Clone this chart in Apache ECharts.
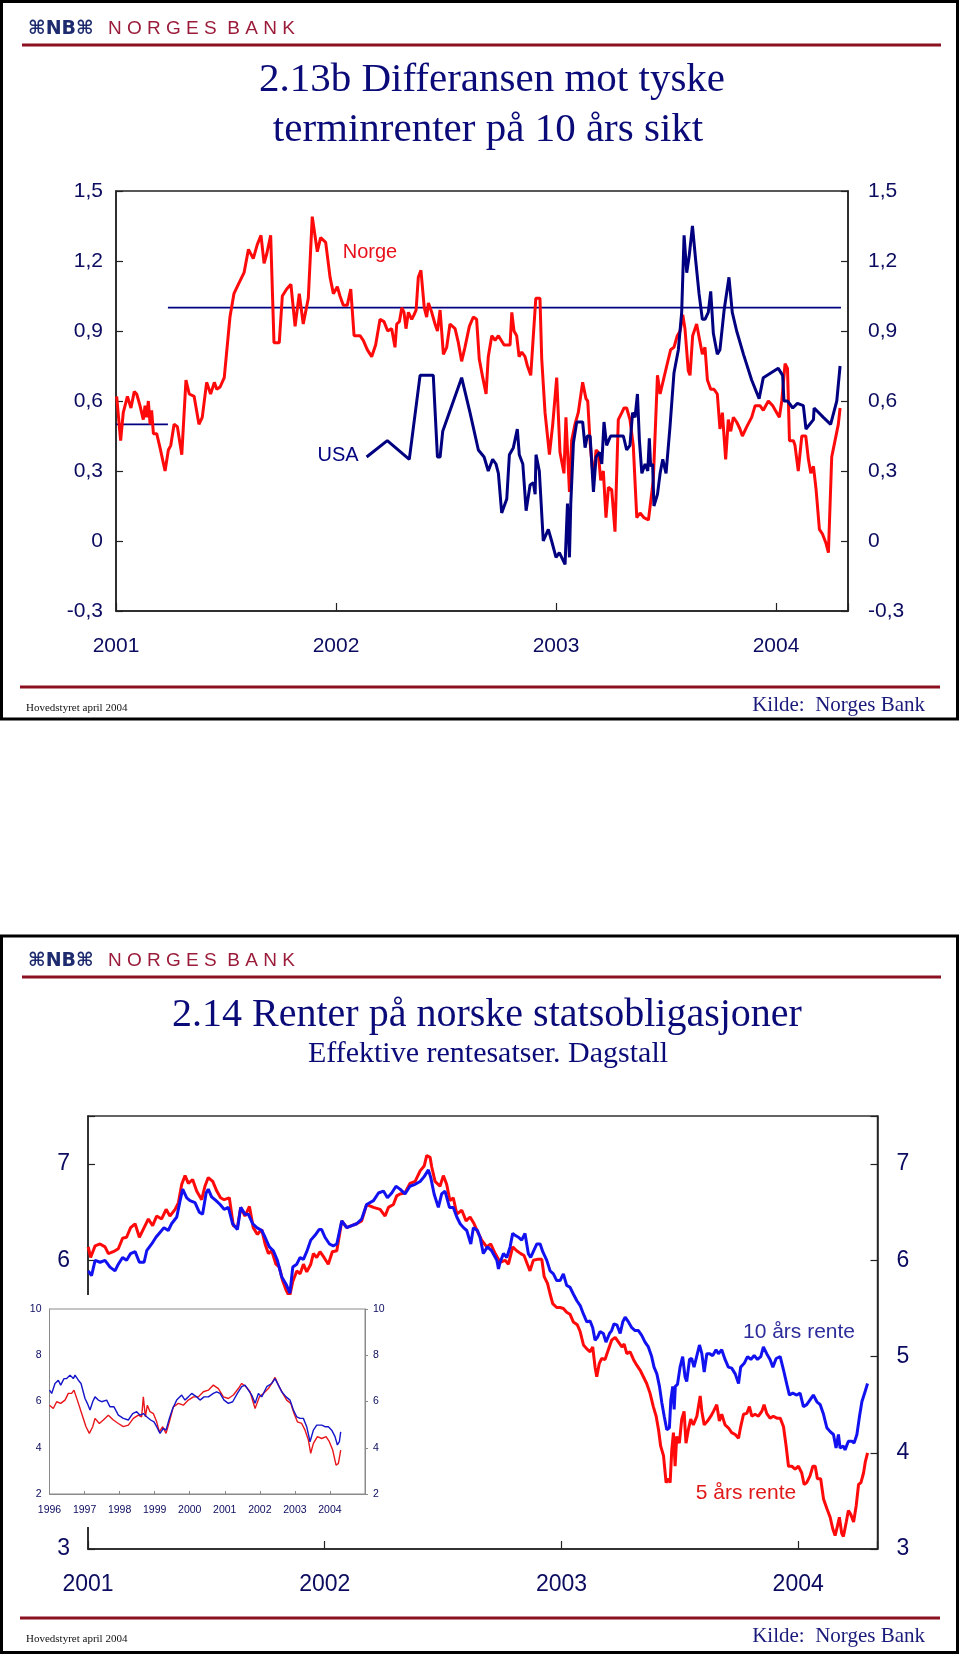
<!DOCTYPE html>
<html><head><meta charset="utf-8">
<script src="https://cdn.jsdelivr.net/npm/echarts@6/dist/echarts.min.js"></script>
<style>html,body{margin:0;padding:0;background:#fff}#c{width:960px;height:1654px}</style>
</head><body><div id="c"></div><script>
// ---------- Chart 2.13b : spread vs German 10y forward rates ----------
const topYTicks = [-0.3, 0, 0.3, 0.6, 0.9, 1.2, 1.5];
const yearTicks = [2001, 2002, 2003, 2004];
const norgeSpread = [[2001.003,0.62],[2001.021,0.43],[2001.033,0.55],[2001.052,0.62],[2001.068,0.57],[2001.083,0.64],[2001.094,0.63],[2001.109,0.58],[2001.124,0.52],[2001.132,0.58],[2001.139,0.53],[2001.147,0.60],[2001.155,0.50],[2001.162,0.56],[2001.170,0.46],[2001.185,0.46],[2001.200,0.40],[2001.223,0.30],[2001.238,0.39],[2001.249,0.41],[2001.264,0.50],[2001.279,0.49],[2001.299,0.37],[2001.318,0.69],[2001.333,0.63],[2001.355,0.62],[2001.377,0.50],[2001.392,0.53],[2001.412,0.68],[2001.430,0.63],[2001.447,0.68],[2001.458,0.65],[2001.473,0.66],[2001.492,0.70],[2001.518,0.96],[2001.536,1.06],[2001.556,1.10],[2001.582,1.15],[2001.602,1.25],[2001.624,1.21],[2001.642,1.27],[2001.659,1.31],[2001.673,1.19],[2001.685,1.23],[2001.703,1.31],[2001.718,0.85],[2001.742,0.85],[2001.756,1.05],[2001.776,1.08],[2001.795,1.10],[2001.814,0.92],[2001.833,1.06],[2001.851,0.93],[2001.874,1.04],[2001.892,1.39],[2001.915,1.24],[2001.930,1.30],[2001.953,1.28],[2001.973,1.13],[2001.988,1.06],[2002.006,1.09],[2002.018,1.05],[2002.033,1.01],[2002.051,1.01],[2002.067,1.08],[2002.082,0.88],[2002.109,0.88],[2002.124,0.86],[2002.142,0.82],[2002.162,0.79],[2002.180,0.84],[2002.200,0.95],[2002.218,0.94],[2002.235,0.90],[2002.253,0.91],[2002.268,0.83],[2002.276,0.93],[2002.288,0.94],[2002.299,1.00],[2002.309,0.98],[2002.318,0.91],[2002.329,0.98],[2002.344,0.95],[2002.355,0.97],[2002.364,0.99],[2002.374,1.13],[2002.386,1.16],[2002.401,1.00],[2002.412,0.96],[2002.420,1.02],[2002.435,0.98],[2002.450,0.93],[2002.461,0.90],[2002.473,0.99],[2002.488,0.80],[2002.503,0.83],[2002.518,0.93],[2002.541,0.91],[2002.556,0.85],[2002.571,0.77],[2002.586,0.83],[2002.606,0.92],[2002.624,0.96],[2002.639,0.95],[2002.651,0.78],[2002.667,0.70],[2002.682,0.63],[2002.692,0.79],[2002.708,0.88],[2002.723,0.86],[2002.738,0.88],[2002.764,0.84],[2002.791,0.84],[2002.799,0.98],[2002.809,0.90],[2002.821,0.88],[2002.832,0.79],[2002.844,0.81],[2002.859,0.79],[2002.870,0.75],[2002.885,0.71],[2002.894,0.71],[2002.908,1.04],[2002.927,1.04],[2002.935,0.78],[2002.950,0.55],[2002.970,0.37],[2002.985,0.50],[2003.003,0.70],[2003.018,0.38],[2003.036,0.29],[2003.045,0.53],[2003.061,0.21],[2003.071,0.43],[2003.086,0.50],[2003.101,0.55],[2003.121,0.68],[2003.136,0.61],[2003.144,0.60],[2003.155,0.42],[2003.170,0.26],[2003.182,0.39],[2003.192,0.38],[2003.203,0.26],[2003.215,0.30],[2003.227,0.10],[2003.238,0.23],[2003.253,0.22],[2003.268,0.04],[2003.283,0.52],[2003.299,0.55],[2003.309,0.57],[2003.321,0.57],[2003.336,0.52],[2003.351,0.41],[2003.367,0.10],[2003.382,0.12],[2003.400,0.10],[2003.420,0.09],[2003.442,0.26],[2003.461,0.71],[2003.473,0.63],[2003.488,0.69],[2003.503,0.75],[2003.521,0.82],[2003.536,0.83],[2003.551,0.88],[2003.564,0.90],[2003.576,0.97],[2003.586,0.91],[2003.601,0.73],[2003.609,0.71],[2003.621,0.88],[2003.639,0.93],[2003.655,0.85],[2003.665,0.80],[2003.677,0.83],[2003.688,0.69],[2003.703,0.65],[2003.718,0.65],[2003.733,0.63],[2003.745,0.48],[2003.756,0.55],[2003.771,0.35],[2003.783,0.52],[2003.794,0.47],[2003.806,0.53],[2003.821,0.51],[2003.836,0.48],[2003.847,0.45],[2003.867,0.49],[2003.889,0.53],[2003.905,0.58],[2003.927,0.58],[2003.942,0.56],[2003.965,0.60],[2003.985,0.58],[2004.003,0.55],[2004.015,0.53],[2004.026,0.60],[2004.041,0.76],[2004.052,0.74],[2004.061,0.43],[2004.079,0.43],[2004.086,0.41],[2004.101,0.30],[2004.117,0.45],[2004.135,0.45],[2004.147,0.35],[2004.158,0.29],[2004.170,0.32],[2004.182,0.22],[2004.197,0.05],[2004.211,0.03],[2004.227,-0.01],[2004.238,-0.05],[2004.253,0.36],[2004.268,0.43],[2004.283,0.50],[2004.291,0.57]];
const usaSpread = [[2002.139,0.36],[2002.233,0.43],[2002.333,0.35],[2002.382,0.71],[2002.442,0.71],[2002.461,0.36],[2002.473,0.36],[2002.485,0.47],[2002.571,0.70],[2002.609,0.55],[2002.647,0.39],[2002.673,0.36],[2002.692,0.30],[2002.712,0.35],[2002.727,0.33],[2002.738,0.29],[2002.753,0.12],[2002.776,0.18],[2002.788,0.37],[2002.806,0.40],[2002.824,0.48],[2002.833,0.37],[2002.849,0.33],[2002.864,0.13],[2002.882,0.24],[2002.897,0.25],[2002.905,0.20],[2002.909,0.37],[2002.924,0.30],[2002.942,0.00],[2002.965,0.05],[2002.980,0.00],[2003.000,-0.07],[2003.015,-0.05],[2003.041,-0.10],[2003.052,0.16],[2003.061,-0.07],[2003.067,0.16],[2003.079,0.42],[2003.094,0.51],[2003.121,0.51],[2003.132,0.40],[2003.142,0.45],[2003.155,0.45],[2003.170,0.21],[2003.182,0.36],[2003.197,0.38],[2003.208,0.33],[2003.218,0.51],[2003.230,0.41],[2003.248,0.45],[2003.306,0.45],[2003.321,0.39],[2003.336,0.41],[2003.348,0.55],[2003.359,0.53],[2003.370,0.63],[2003.379,0.43],[2003.390,0.29],[2003.405,0.33],[2003.417,0.30],[2003.424,0.44],[2003.430,0.32],[2003.439,0.33],[2003.445,0.15],[2003.461,0.20],[2003.473,0.29],[2003.485,0.35],[2003.500,0.29],[2003.518,0.49],[2003.536,0.72],[2003.556,0.82],[2003.571,0.98],[2003.582,1.31],[2003.594,1.15],[2003.605,1.22],[2003.620,1.35],[2003.635,1.20],[2003.650,1.06],[2003.665,0.95],[2003.677,0.95],[2003.692,0.98],[2003.703,1.07],[2003.715,0.89],[2003.733,0.80],[2003.745,0.82],[2003.764,0.99],[2003.786,1.13],[2003.801,0.98],[2003.821,0.90],[2003.852,0.80],[2003.889,0.69],[2003.923,0.61],[2003.942,0.70],[2003.976,0.72],[2004.010,0.74],[2004.030,0.71],[2004.036,0.60],[2004.052,0.60],[2004.076,0.57],[2004.097,0.59],[2004.124,0.58],[2004.136,0.48],[2004.170,0.52],[2004.173,0.57],[2004.215,0.53],[2004.248,0.50],[2004.276,0.60],[2004.291,0.75]];
const targetLevels = [0.5, 1.0];
const targetStarts = [2001.0, 2001.236];
const targetEnds = [2001.236, 2004.295];

// ---------- Chart 2.14 : Norwegian government bond yields ----------
const mainYTicks = [3, 4, 5, 6, 7];
const rente5 = [[2001.001,6.14],[2001.011,6.03],[2001.030,6.15],[2001.051,6.17],[2001.072,6.14],[2001.086,6.07],[2001.107,6.09],[2001.128,6.12],[2001.146,6.23],[2001.163,6.24],[2001.180,6.34],[2001.199,6.38],[2001.217,6.24],[2001.237,6.34],[2001.255,6.43],[2001.273,6.36],[2001.290,6.46],[2001.311,6.43],[2001.330,6.53],[2001.346,6.46],[2001.368,6.53],[2001.382,6.60],[2001.396,6.79],[2001.410,6.88],[2001.424,6.80],[2001.442,6.84],[2001.459,6.72],[2001.480,6.63],[2001.494,6.77],[2001.508,6.86],[2001.527,6.82],[2001.544,6.72],[2001.560,6.65],[2001.575,6.63],[2001.597,6.65],[2001.614,6.36],[2001.631,6.34],[2001.645,6.55],[2001.663,6.46],[2001.682,6.56],[2001.698,6.34],[2001.715,6.27],[2001.734,6.32],[2001.748,6.17],[2001.762,6.07],[2001.776,6.10],[2001.794,5.96],[2001.808,5.93],[2001.822,5.79],[2001.837,5.69],[2001.851,5.62],[2001.865,5.78],[2001.882,5.89],[2001.896,5.86],[2001.910,5.96],[2001.924,5.88],[2001.941,5.96],[2001.952,6.07],[2001.966,6.03],[2001.980,6.09],[2001.997,6.03],[2002.015,5.96],[2002.032,6.09],[2002.051,6.10],[2002.072,6.41],[2002.093,6.34],[2002.114,6.36],[2002.135,6.38],[2002.156,6.41],[2002.177,6.58],[2002.206,6.55],[2002.234,6.53],[2002.255,6.46],[2002.269,6.55],[2002.290,6.58],[2002.304,6.67],[2002.318,6.69],[2002.339,6.70],[2002.360,6.80],[2002.382,6.82],[2002.403,6.93],[2002.420,6.98],[2002.431,7.09],[2002.445,7.07],[2002.452,6.97],[2002.466,6.82],[2002.487,6.77],[2002.501,6.88],[2002.515,6.79],[2002.529,6.62],[2002.543,6.65],[2002.558,6.48],[2002.579,6.52],[2002.597,6.41],[2002.614,6.45],[2002.631,6.38],[2002.649,6.28],[2002.663,6.21],[2002.684,6.14],[2002.701,6.17],[2002.720,6.07],[2002.741,5.98],[2002.762,6.00],[2002.776,5.96],[2002.794,6.14],[2002.811,6.10],[2002.828,6.07],[2002.842,6.05],[2002.856,5.96],[2002.867,5.89],[2002.881,6.00],[2002.898,6.01],[2002.917,6.01],[2002.927,5.83],[2002.941,5.76],[2002.952,5.65],[2002.963,5.55],[2002.980,5.51],[2002.994,5.51],[2003.008,5.50],[2003.022,5.46],[2003.036,5.44],[2003.050,5.36],[2003.067,5.33],[2003.079,5.26],[2003.093,5.12],[2003.107,5.08],[2003.121,5.05],[2003.132,5.10],[2003.142,4.89],[2003.149,4.79],[2003.160,4.93],[2003.170,4.98],[2003.184,4.97],[2003.198,5.07],[2003.212,5.17],[2003.227,5.20],[2003.241,5.15],[2003.255,5.10],[2003.265,5.13],[2003.276,5.03],[2003.290,5.05],[2003.304,4.97],[2003.318,4.91],[2003.332,4.86],[2003.346,4.79],[2003.360,4.72],[2003.374,4.62],[2003.388,4.48],[2003.400,4.38],[2003.410,4.24],[2003.419,4.07],[2003.431,3.97],[2003.442,3.69],[2003.452,3.73],[2003.459,3.69],[2003.466,4.03],[2003.473,4.21],[2003.480,3.86],[2003.487,4.17],[2003.498,4.10],[2003.508,4.35],[2003.518,4.43],[2003.526,4.10],[2003.536,4.24],[2003.546,4.35],[2003.557,4.29],[2003.572,4.38],[2003.586,4.59],[2003.593,4.43],[2003.603,4.29],[2003.617,4.33],[2003.631,4.38],[2003.642,4.43],[2003.656,4.50],[2003.667,4.33],[2003.677,4.40],[2003.691,4.29],[2003.705,4.26],[2003.719,4.21],[2003.734,4.19],[2003.748,4.15],[2003.757,4.27],[2003.769,4.40],[2003.783,4.41],[2003.794,4.48],[2003.804,4.38],[2003.818,4.40],[2003.832,4.38],[2003.846,4.43],[2003.856,4.50],[2003.867,4.41],[2003.881,4.36],[2003.895,4.38],[2003.910,4.36],[2003.924,4.36],[2003.938,4.27],[2003.949,4.07],[2003.959,3.86],[2003.973,3.86],[2003.987,3.83],[2004.001,3.86],[2004.015,3.79],[2004.025,3.67],[2004.036,3.69],[2004.050,3.76],[2004.062,3.86],[2004.072,3.86],[2004.081,3.73],[2004.095,3.73],[2004.107,3.52],[2004.121,3.42],[2004.135,3.33],[2004.146,3.21],[2004.156,3.14],[2004.166,3.24],[2004.174,3.33],[2004.184,3.16],[2004.191,3.13],[2004.203,3.28],[2004.212,3.40],[2004.222,3.36],[2004.234,3.28],[2004.245,3.45],[2004.255,3.67],[2004.265,3.69],[2004.276,3.79],[2004.283,3.90],[2004.293,4.00]];
const rente10 = [[2001.001,5.89],[2001.015,5.84],[2001.030,6.00],[2001.051,5.98],[2001.072,6.00],[2001.093,5.93],[2001.114,5.89],[2001.128,5.96],[2001.146,6.03],[2001.163,6.00],[2001.180,6.07],[2001.199,6.09],[2001.217,5.98],[2001.237,5.98],[2001.248,6.10],[2001.269,6.17],[2001.287,6.24],[2001.304,6.29],[2001.321,6.34],[2001.339,6.31],[2001.353,6.38],[2001.375,6.45],[2001.389,6.62],[2001.400,6.74],[2001.417,6.65],[2001.431,6.62],[2001.452,6.60],[2001.470,6.50],[2001.484,6.48],[2001.499,6.70],[2001.508,6.74],[2001.522,6.66],[2001.541,6.62],[2001.558,6.58],[2001.575,6.53],[2001.593,6.55],[2001.611,6.38],[2001.631,6.32],[2001.645,6.55],[2001.663,6.48],[2001.677,6.48],[2001.696,6.38],[2001.713,6.34],[2001.734,6.31],[2001.748,6.24],[2001.766,6.14],[2001.783,6.10],[2001.800,6.00],[2001.818,5.83],[2001.839,5.74],[2001.853,5.66],[2001.865,5.93],[2001.882,5.96],[2001.896,6.03],[2001.910,6.01],[2001.924,6.09],[2001.941,6.21],[2001.959,6.26],[2001.976,6.32],[2001.987,6.32],[2002.001,6.24],[2002.020,6.17],[2002.036,6.15],[2002.051,6.17],[2002.072,6.41],[2002.093,6.34],[2002.114,6.36],[2002.135,6.38],[2002.156,6.43],[2002.177,6.58],[2002.206,6.62],[2002.227,6.70],[2002.248,6.72],[2002.265,6.65],[2002.283,6.70],[2002.301,6.77],[2002.318,6.74],[2002.339,6.69],[2002.360,6.77],[2002.382,6.79],[2002.403,6.82],[2002.420,6.87],[2002.438,6.94],[2002.448,6.86],[2002.462,6.69],[2002.480,6.55],[2002.494,6.69],[2002.508,6.72],[2002.527,6.55],[2002.543,6.55],[2002.558,6.45],[2002.572,6.38],[2002.586,6.34],[2002.600,6.31],[2002.617,6.17],[2002.628,6.34],[2002.645,6.31],[2002.656,6.24],[2002.670,6.07],[2002.687,6.14],[2002.705,6.10],[2002.727,6.00],[2002.734,5.91],[2002.741,5.98],[2002.755,6.07],[2002.769,6.03],[2002.783,6.14],[2002.794,6.28],[2002.804,6.26],[2002.818,6.24],[2002.832,6.21],[2002.846,6.28],[2002.860,6.07],[2002.870,6.03],[2002.881,6.09],[2002.896,6.17],[2002.910,6.17],[2002.921,6.09],[2002.938,6.00],[2002.952,5.89],[2002.966,5.86],[2002.980,5.79],[2002.994,5.79],[2003.008,5.86],[2003.022,5.74],[2003.036,5.72],[2003.050,5.65],[2003.065,5.58],[2003.079,5.53],[2003.093,5.44],[2003.107,5.36],[2003.121,5.37],[2003.132,5.30],[2003.142,5.17],[2003.152,5.20],[2003.163,5.26],[2003.177,5.24],[2003.188,5.15],[2003.203,5.24],[2003.212,5.27],[2003.222,5.34],[2003.234,5.33],[2003.248,5.24],[2003.259,5.36],[2003.269,5.41],[2003.283,5.36],[2003.297,5.30],[2003.311,5.27],[2003.325,5.27],[2003.339,5.22],[2003.353,5.15],[2003.367,5.10],[2003.381,5.00],[2003.391,4.89],[2003.403,4.82],[2003.414,4.69],[2003.424,4.52],[2003.434,4.38],[2003.445,4.24],[2003.456,4.26],[2003.462,4.55],[2003.470,4.69],[2003.476,4.45],[2003.481,4.69],[2003.490,4.71],[2003.501,4.89],[2003.512,5.00],[2003.522,4.79],[2003.529,4.74],[2003.541,4.97],[2003.550,4.98],[2003.560,4.89],[2003.572,5.01],[2003.583,5.12],[2003.593,5.03],[2003.603,4.84],[2003.614,5.03],[2003.625,5.03],[2003.639,5.01],[2003.653,5.07],[2003.663,5.03],[2003.677,5.07],[2003.691,4.97],[2003.705,4.89],[2003.719,4.88],[2003.734,4.82],[2003.748,4.72],[2003.757,4.89],[2003.772,4.93],[2003.786,5.00],[2003.800,4.97],[2003.814,5.01],[2003.828,4.97],[2003.842,5.00],[2003.853,5.10],[2003.867,5.03],[2003.881,4.97],[2003.893,4.89],[2003.907,4.98],[2003.924,5.00],[2003.938,4.86],[2003.952,4.71],[2003.963,4.60],[2003.977,4.62],[2003.994,4.60],[2004.008,4.62],[2004.022,4.48],[2004.036,4.50],[2004.050,4.55],[2004.064,4.60],[2004.079,4.53],[2004.093,4.50],[2004.107,4.40],[2004.121,4.26],[2004.135,4.22],[2004.149,4.19],[2004.160,4.05],[2004.170,4.19],[2004.177,4.05],[2004.191,4.07],[2004.198,4.03],[2004.212,4.12],[2004.227,4.12],[2004.236,4.10],[2004.248,4.19],[2004.259,4.38],[2004.269,4.53],[2004.283,4.64],[2004.293,4.72]];

// ---------- Inset 1996-2004 ----------
const insetYears = [1996, 1997, 1998, 1999, 2000, 2001, 2002, 2003, 2004];
const insetYTicks = [2, 4, 6, 8, 10];
const inset10 = [[1996.00,6.49],[1996.062,6.35],[1996.157,6.78],[1996.252,6.92],[1996.319,6.71],[1996.414,6.99],[1996.490,6.99],[1996.585,7.14],[1996.680,6.99],[1996.728,7.14],[1996.823,6.92],[1996.899,6.78],[1997.013,6.13],[1997.079,5.92],[1997.156,5.63],[1997.232,5.99],[1997.298,6.20],[1997.393,6.06],[1997.488,5.99],[1997.631,6.06],[1997.726,5.77],[1997.840,5.77],[1997.964,5.41],[1998.107,5.27],[1998.249,5.20],[1998.373,5.48],[1998.487,5.56],[1998.582,5.41],[1998.677,5.48],[1998.772,5.34],[1998.886,5.20],[1998.981,5.12],[1999.057,4.91],[1999.153,4.62],[1999.248,4.84],[1999.324,4.76],[1999.419,5.27],[1999.514,5.70],[1999.628,6.06],[1999.770,6.28],[1999.865,6.06],[1999.960,6.20],[2000.056,6.35],[2000.199,6.20],[2000.294,6.06],[2000.408,6.20],[2000.532,6.20],[2000.674,6.35],[2000.769,6.42],[2000.864,6.35],[2000.979,6.06],[2001.102,5.92],[2001.226,5.99],[2001.359,6.35],[2001.483,6.64],[2001.578,6.71],[2001.674,6.49],[2001.769,6.28],[2001.864,5.92],[2001.959,6.35],[2002.054,6.20],[2002.197,6.64],[2002.339,6.78],[2002.434,6.99],[2002.529,6.71],[2002.624,6.42],[2002.748,6.20],[2002.862,6.06],[2002.957,5.63],[2003.052,5.34],[2003.147,5.27],[2003.242,5.27],[2003.337,4.91],[2003.432,4.26],[2003.528,4.76],[2003.623,4.98],[2003.765,4.98],[2003.860,4.91],[2003.955,4.91],[2004.050,4.76],[2004.145,4.48],[2004.212,4.12],[2004.269,4.26],[2004.307,4.69]];
const inset5 = [[1996.00,5.84],[1996.109,5.70],[1996.204,5.99],[1996.319,5.92],[1996.442,6.06],[1996.537,6.35],[1996.632,6.35],[1996.699,6.49],[1996.794,6.06],[1996.918,5.48],[1997.041,4.91],[1997.136,4.62],[1997.232,4.91],[1997.298,5.27],[1997.422,5.05],[1997.536,5.20],[1997.678,5.41],[1997.821,5.20],[1997.964,5.05],[1998.107,4.91],[1998.249,4.98],[1998.392,5.27],[1998.534,5.41],[1998.629,5.34],[1998.677,6.20],[1998.734,5.34],[1998.791,5.84],[1998.867,5.56],[1998.962,5.48],[1999.057,5.12],[1999.133,4.69],[1999.229,4.91],[1999.324,4.62],[1999.419,5.12],[1999.533,5.77],[1999.676,5.92],[1999.818,5.84],[1999.960,6.06],[2000.104,6.20],[2000.246,6.20],[2000.389,6.42],[2000.532,6.49],[2000.674,6.71],[2000.817,6.56],[2000.960,6.20],[2001.102,6.13],[2001.245,6.28],[2001.388,6.56],[2001.483,6.78],[2001.607,6.64],[2001.721,6.42],[2001.864,5.70],[2001.988,6.20],[2002.101,6.35],[2002.244,6.56],[2002.339,6.78],[2002.434,7.04],[2002.529,6.71],[2002.653,6.35],[2002.767,6.06],[2002.881,5.92],[2002.976,5.48],[2003.071,5.12],[2003.194,5.05],[2003.290,4.76],[2003.385,4.33],[2003.451,3.76],[2003.528,4.19],[2003.642,4.48],[2003.765,4.40],[2003.888,4.48],[2003.983,4.26],[2004.079,3.90],[2004.174,3.25],[2004.241,3.32],[2004.307,3.90]];

// ---------- styling ----------
const NAVY = '#000080', RED = '#ff0a0a', BLUE = '#1212f0', LBL = '#0b0b60';
const SANS = 'Liberation Sans, Arial, sans-serif';
const SERIF = 'Liberation Serif, Times New Roman, serif';

function inList(list) { return v => list.some(t => Math.abs(t - v) < 1e-6); }
const fmtTop = v => inList(topYTicks)(v) ? (Math.abs(v) < 1e-9 ? '0' : v.toFixed(1).replace('.', ',')) : '';
const fmtYear = list => v => inList(list)(v) ? String(Math.round(v)) : '';
const fmtInt = list => v => inList(list)(v) ? String(Math.round(v)) : '';

function yAx(gi, min, max, interval, pos, margin, fmt, fs, extra) {
  return Object.assign({
    type: 'value', gridIndex: gi, min, max, interval, position: pos,
    splitLine: { show: false },
    axisLine: { show: true, lineStyle: { color: '#222', width: 1.5 } },
    axisTick: { show: true, inside: true, length: 7, lineStyle: { color: '#222', width: 1.2 } },
    axisLabel: { margin, formatter: fmt, color: LBL, fontSize: fs, fontFamily: SANS }
  }, extra || {});
}
function xAx(gi, min, max, margin, fmt, fs, extra) {
  return Object.assign({
    type: 'value', gridIndex: gi, min, max, interval: 1, position: 'bottom',
    splitLine: { show: false },
    axisLine: { show: true, onZero: false, lineStyle: { color: '#222', width: 1.5 } },
    axisTick: { show: true, inside: true, length: 8, lineStyle: { color: '#222', width: 1.2 } },
    axisLabel: { margin, formatter: fmt, color: LBL, fontSize: fs, fontFamily: SANS, showMaxLabel: true, showMinLabel: true, hideOverlap: false }
  }, extra || {});
}
function line(name, data, xi, yi, color, width, z) {
  return { name, type: 'line', data, xAxisIndex: xi, yAxisIndex: yi, showSymbol: false, symbol: 'none',
    lineStyle: { color, width }, itemStyle: { color }, z, silent: true, animation: false };
}
function txt(text, x, y, font, fill, align, valign, z) {
  return { type: 'text', z: z || 1, style: { text, x, y, font, fill, textAlign: align || 'left', textVerticalAlign: valign || 'middle', align: align || 'left', verticalAlign: valign || 'middle' } };
}
function hline(x1, x2, y, stroke, w, z) {
  return { type: 'line', z: z || 1, shape: { x1, y1: y, x2, y2: y }, style: { stroke, lineWidth: w } };
}
function slide(y0, h, logoY, lineY, footY) {
  return [
    { type: 'rect', z: 1, shape: { x: 1.5, y: y0, width: 956, height: h }, style: { fill: 'none', stroke: '#000', lineWidth: 3 } },
    txt('⌘NB⌘', 28, logoY, 'bold 19px DejaVu Sans', '#1e2b6e', 'left', 'middle'),
    txt('N O R G E S  B A N K', 108, logoY, '19px ' + SANS, '#9b1c3a', 'left', 'middle'),
    hline(22, 941, lineY, '#8b1020', 3),
    hline(20, 940, footY, '#8b1020', 3),
    txt('Hovedstyret april 2004', 26, footY + 21, '11px ' + SERIF, '#111', 'left', 'middle'),
    txt('Kilde:  Norges Bank', 925, footY + 18, '21px ' + SERIF, '#1a1a7a', 'right', 'middle')
  ];
}

const series = [];
targetLevels.forEach((lvl, i) => {
  series.push(line('Mål ' + i, [[targetStarts[i], lvl], [targetEnds[i], lvl]], 0, 0, NAVY, 1.6, 2));
});
series.push(line('Norge', norgeSpread, 0, 0, RED, 3, 3));
series.push(line('USA', usaSpread, 0, 0, NAVY, 3, 4));
series.push(line('5 års rente', rente5, 1, 2, RED, 3, 3));
series.push(line('10 års rente', rente10, 1, 2, BLUE, 3, 4));
series.push(line('5 år (1996-)', inset5, 2, 4, '#e8161b', 1.4, 12));
series.push(line('10 år (1996-)', inset10, 2, 4, '#1414c8', 1.4, 13));

const option = {
  animation: false,
  backgroundColor: '#fff',
  grid: [
    { left: 116, top: 191, width: 732, height: 420, show: true, borderColor: '#222', borderWidth: 1.5, backgroundColor: 'transparent' },
    { left: 88, top: 1116, width: 789.5, height: 433, show: true, borderColor: '#333', borderWidth: 1.5, backgroundColor: 'transparent' },
    { left: 49.5, top: 1309, width: 315.5, height: 185, show: true, borderColor: '#8a8a8a', borderWidth: 1, backgroundColor: 'transparent', z: 10 }
  ],
  xAxis: [
    xAx(0, 2001, 2004.327, 25, fmtYear(yearTicks), 21),
    xAx(1, 2001, 2004.335, 24, fmtYear(yearTicks), 23),
    xAx(2, 1996, 2005, 11, fmtYear(insetYears), 10.5, {
      z: 11,
      axisLine: { show: true, onZero: false, lineStyle: { color: '#8a8a8a', width: 1 } },
      axisTick: { show: true, inside: true, length: 3, lineStyle: { color: '#8a8a8a', width: 1 } }
    })
  ],
  yAxis: [
    yAx(0, -0.3, 1.5, 0.3, 'left', 13, fmtTop, 21),
    yAx(0, -0.3, 1.5, 0.3, 'right', 20, fmtTop, 21),
    yAx(1, 3, 7.5, 1, 'left', 18, fmtInt(mainYTicks), 23),
    yAx(1, 3, 7.5, 1, 'right', 19, fmtInt(mainYTicks), 23),
    yAx(2, 2, 10, 2, 'left', 8, fmtInt(insetYTicks), 10.5, {
      z: 11,
      axisLine: { show: true, lineStyle: { color: '#8a8a8a', width: 1 } },
      axisTick: { show: false }
    }),
    yAx(2, 2, 10, 2, 'right', 8, fmtInt(insetYTicks), 10.5, {
      z: 11,
      axisLine: { show: true, lineStyle: { color: '#8a8a8a', width: 1 } },
      axisTick: { show: true, inside: false, length: 3, lineStyle: { color: '#8a8a8a', width: 1 } }
    })
  ],
  series,
  graphic: { elements: [
    ...slide(1.5, 717.5, 29, 45, 687),
    txt('2.13b Differansen mot tyske', 492, 80, '41px ' + SERIF, '#0a0a78', 'center', 'middle'),
    txt('terminrenter på 10 års sikt', 488, 130, '41px ' + SERIF, '#0a0a78', 'center', 'middle'),
    txt('Norge', 370, 252, '20px ' + SANS, '#e8101a', 'center', 'middle', 20),
    txt('USA', 338, 455, '20px ' + SANS, NAVY, 'center', 'middle', 20),
    ...slide(936, 716.5, 961, 977, 1618),
    txt('2.14 Renter på norske statsobligasjoner', 487, 1015, '40px ' + SERIF, '#0a0a78', 'center', 'middle'),
    txt('Effektive rentesatser. Dagstall', 488, 1054, '30px ' + SERIF, '#0a0a78', 'center', 'middle'),
    { type: 'rect', z: 9, shape: { x: 4, y: 1295, width: 392, height: 232 }, style: { fill: '#fff' } },
    txt('10 års rente', 799, 1332, '21px ' + SANS, '#2c2c9c', 'center', 'middle', 20),
    txt('5 års rente', 746, 1493, '21px ' + SANS, '#e01818', 'center', 'middle', 20)
  ] }
};

const chart = echarts.init(document.getElementById('c'), null, { renderer: 'canvas', width: 960, height: 1654 });
chart.setOption(option);
</script></body></html>
